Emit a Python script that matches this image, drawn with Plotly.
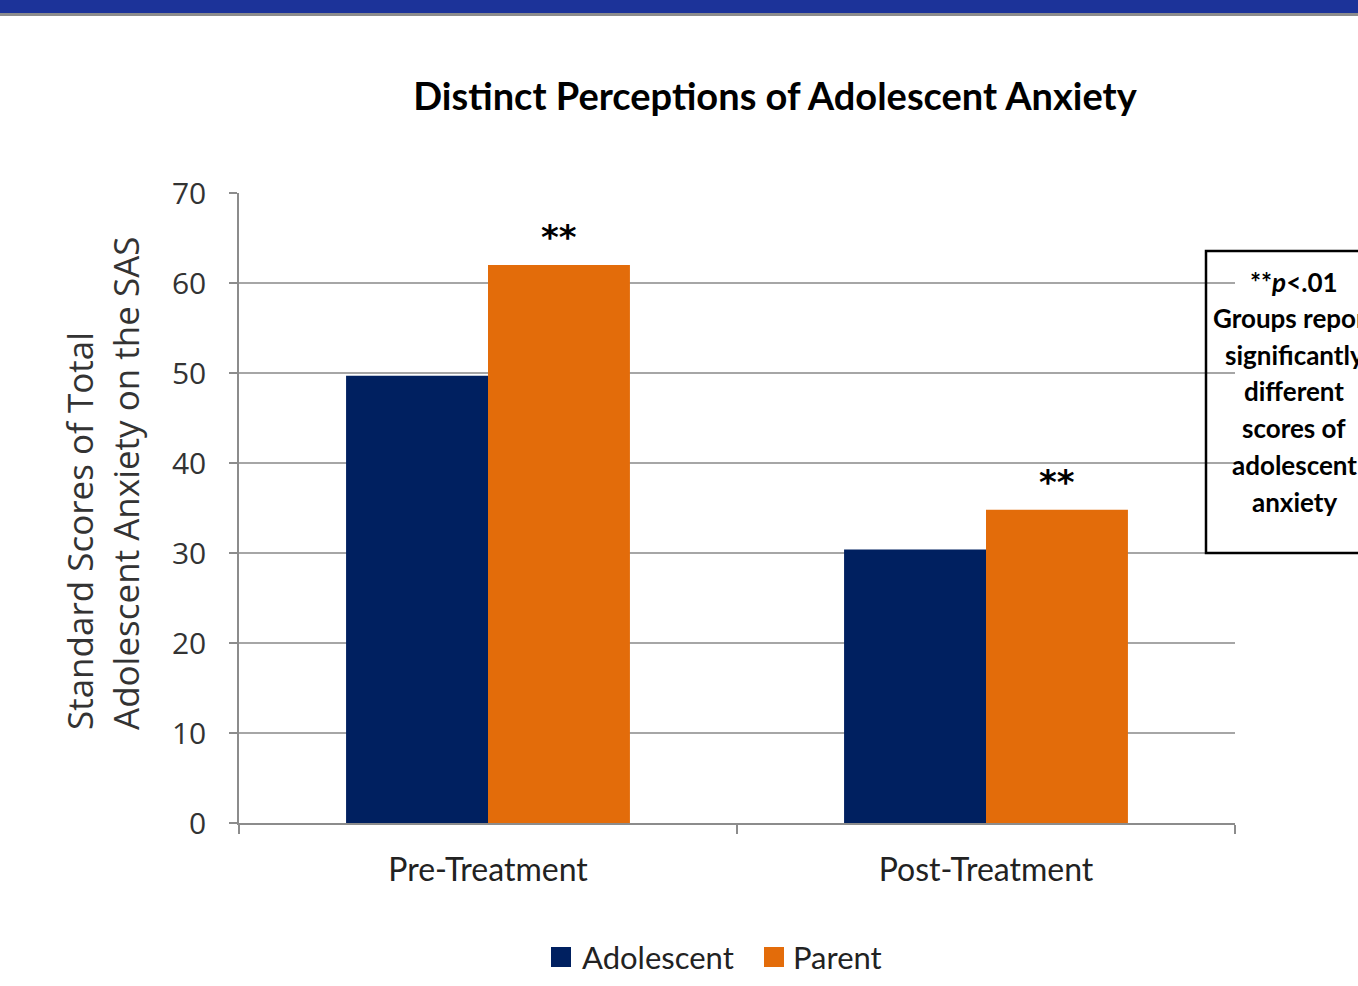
import plotly.graph_objects as go

categories = ["Pre-Treatment", "Post-Treatment"]
adolescent = [49.7, 30.4]
parent = [62.0, 34.8]
y_ticks = [0, 10, 20, 30, 40, 50, 60, 70]
sig_labels = ["**", "**"]
note_lines = ["**<i>p</i>&lt;.01", "Groups report", "significantly", "different",
              "scores of", "adolescent", "anxiety"]
series_names = ["Adolescent", "Parent"]

NAVY = "#002060"
ORANGE = "#E36C0A"
GRID = "#A6A6A6"
AXIS = "#8C8C8C"

# layout geometry (pixels)
W, H = 1358, 986
L, R, T, B = 239, 123, 193, 163
PW, PH = W - L - R, H - T - B


def px_x(x):
    return (x - L) / PW


def px_y(y):
    return (H - B - y) / PH


fig = go.Figure()
fig.add_trace(go.Bar(name=series_names[0], x=categories, y=adolescent, showlegend=False,
                     marker=dict(color=NAVY, line=dict(width=0))))
fig.add_trace(go.Bar(name=series_names[1], x=categories, y=parent, showlegend=False,
                     marker=dict(color=ORANGE, line=dict(width=0))))

annotations = []
for c, v, s in zip(categories, parent, sig_labels):
    annotations.append(dict(x=c, y=v, xref="x", yref="y", text="<b>" + s + "</b>", showarrow=False,
                            xshift=71, yshift=28, yanchor="middle",
                            font=dict(family="DejaVu Sans", size=34, color="black")))

line_y = [282, 318, 355, 391, 428, 465, 502]
for t, yy in zip(note_lines, line_y):
    annotations.append(dict(x=px_x(1294), y=px_y(yy), xref="paper", yref="paper",
                            xanchor="center", yanchor="middle", showarrow=False,
                            text="<b>" + t + "</b>",
                            font=dict(family="Lato", size=26, color="black")))

# y axis title
annotations.append(dict(x=px_x(102), y=px_y(483), xref="paper", yref="paper",
                        xanchor="center", yanchor="middle", showarrow=False, textangle=-90,
                        align="left",
                        text="Standard Scores of Total<br>Adolescent Anxiety on the SAS",
                        font=dict(family="Open Sans", size=35, color="#333333")))

# manual legend
leg_items = [(551, 580, series_names[0], NAVY), (764, 791, series_names[1], ORANGE)]
shapes = []
for sx, tx, name, col in leg_items:
    shapes.append(dict(type="rect", xref="paper", yref="paper",
                       x0=px_x(sx), x1=px_x(sx + 20), y0=px_y(967), y1=px_y(947),
                       fillcolor=col, line=dict(width=0)))
    annotations.append(dict(x=px_x(tx), y=px_y(957), xref="paper", yref="paper",
                            xanchor="left", yanchor="middle", showarrow=False, text=name,
                            font=dict(family="Lato", size=31, color="#222222")))

shapes += [
    dict(type="rect", xref="paper", yref="paper", x0=-0.3, x1=1.3, y0=px_y(13), y1=px_y(-20),
         fillcolor="#1C3399", line=dict(width=0), layer="above"),
    dict(type="rect", xref="paper", yref="paper", x0=-0.3, x1=1.3, y0=px_y(16), y1=px_y(13),
         fillcolor="#8C8C8C", line=dict(width=0), layer="above"),
    dict(type="rect", xref="paper", yref="paper", x0=px_x(1206), x1=px_x(1420),
         y0=px_y(553), y1=px_y(251),
         fillcolor="rgba(0,0,0,0)", line=dict(color="black", width=2.5), layer="above"),
]

fig.update_layout(
    width=W, height=H,
    margin=dict(l=L, r=R, t=T, b=B, autoexpand=False),
    paper_bgcolor="white", plot_bgcolor="white",
    barmode="group", bargap=0.43, bargroupgap=0,
    showlegend=False,
    title=dict(text="<b>Distinct Perceptions of Adolescent Anxiety</b>",
               x=775 / W, xanchor="center", y=1 - 97 / H, yanchor="middle",
               font=dict(family="Lato", size=38, color="black")),
    xaxis=dict(type="category", showgrid=False, showline=True, linecolor=AXIS, linewidth=1.5,
               ticks="outside", tickson="boundaries", ticklen=9, tickcolor=AXIS, tickwidth=1.5,
               ticklabelstandoff=18,
               tickfont=dict(family="Lato", size=32, color="#222222")),
    yaxis=dict(range=[0, 70], tickvals=y_ticks, showgrid=True, gridcolor=GRID, gridwidth=1.5,
               showline=True, linecolor=AXIS, linewidth=1.5, zeroline=False,
               ticks="outside", ticklen=8, tickcolor=AXIS, tickwidth=1.5,
               ticklabelstandoff=17,
               tickfont=dict(family="Open Sans", size=30, color="#333333")),
    annotations=annotations,
    shapes=shapes,
)

fig.write_html("out.html")
